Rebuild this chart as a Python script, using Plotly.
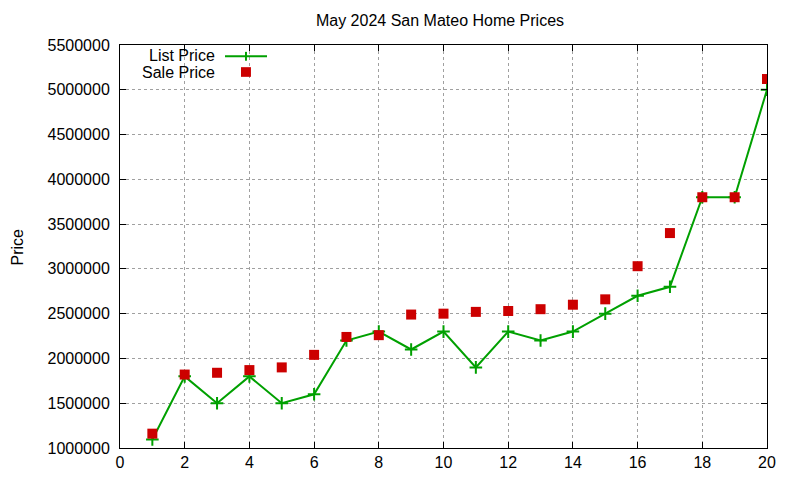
import plotly.graph_objects as go

# house index (1..20) and prices
house = list(range(1, 21))
list_price = [1095000, 1800000, 1500000, 1800000, 1500000, 1600000, 2200000, 2300000, 2100000, 2300000,
              1900000, 2300000, 2200000, 2300000, 2500000, 2700000, 2800000, 3800000, 3800000, 5000000]
sale_price = [1160000, 1820000, 1840000, 1870000, 1900000, 2040000, 2240000, 2260000, 2490000, 2500000,
              2520000, 2530000, 2550000, 2600000, 2660000, 3030000, 3400000, 3800000, 3800000, 5120000]

x_ticks = list(range(0, 21, 2))
y_ticks = list(range(1000000, 5500001, 500000))

green = "#00a000"
red = "#cc0000"
font = "Liberation Sans, Arial, sans-serif"

fig = go.Figure()
fig.add_trace(go.Scatter(
    x=house, y=list_price, mode="lines+markers", name="List Price",
    line=dict(color=green, width=2),
    marker=dict(symbol="cross-thin", size=9, line=dict(color=green, width=2)),
    showlegend=False,
))
fig.add_trace(go.Scatter(
    x=house, y=sale_price, mode="markers", name="Sale Price",
    marker=dict(symbol="square", size=10, color=red),
    showlegend=False,
))

axis_style = dict(
    showline=True, linecolor="black", linewidth=1, mirror="ticks",
    ticks="inside", ticklen=6, tickcolor="black",
    showgrid=True, gridcolor="#a0a0a0", griddash="dot", gridwidth=1,
    zeroline=False, tickfont=dict(family=font, size=16, color="black"),
)

fig.update_xaxes(range=[0, 20], tickvals=x_ticks, **axis_style)
fig.update_yaxes(range=[1000000, 5500000], tickvals=y_ticks, tickformat="d",
                 ticklabelstandoff=6, **axis_style)

# gnuplot style key: text on the left, sample on the right
fig.add_annotation(x=0.1500, y=0.974, xref="paper", yref="paper", text="List Price",
                   showarrow=False, xanchor="right", yanchor="middle",
                   font=dict(family=font, size=16, color="black"))
fig.add_annotation(x=0.1500, y=0.931, xref="paper", yref="paper", text="Sale Price",
                   showarrow=False, xanchor="right", yanchor="middle",
                   font=dict(family=font, size=16, color="black"))
fig.add_shape(type="line", xref="paper", yref="paper", x0=0.1623, x1=0.2272, y0=0.972, y1=0.972,
              line=dict(color=green, width=2))
fig.add_shape(type="line", xref="paper", yref="paper", x0=0.1947, x1=0.1947, y0=0.961, y1=0.983,
              line=dict(color=green, width=2))
fig.add_shape(type="rect", xref="paper", yref="paper", x0=0.1870, x1=0.2024, y0=0.921, y1=0.945,
              line=dict(width=0), fillcolor=red)

fig.add_annotation(x=-0.1577, y=0.5, xref="paper", yref="paper", text="Price", textangle=-90,
                   showarrow=False, xanchor="center", yanchor="middle",
                   font=dict(family=font, size=16, color="black"))

fig.update_layout(
    width=800, height=480,
    margin=dict(l=112, r=41, t=37, b=40),
    paper_bgcolor="white", plot_bgcolor="white",
    title=dict(text="May 2024 San Mateo Home Prices", x=0.54, xanchor="center",
               y=0.975, yref="container", yanchor="middle",
               font=dict(family=font, size=16, color="black")),
)

fig.write_html("out.html")
